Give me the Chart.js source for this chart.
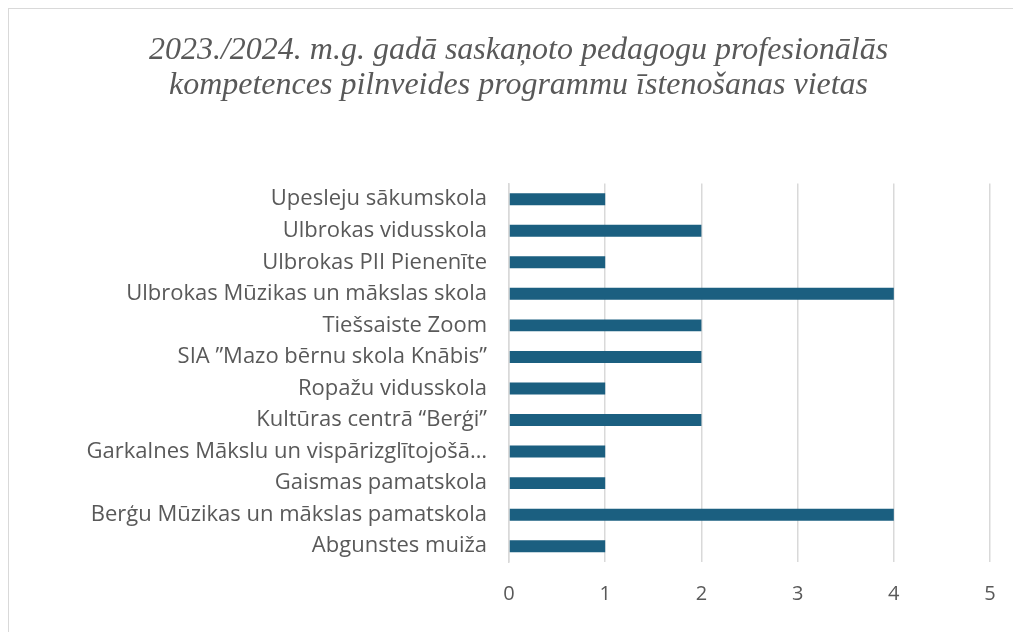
<!DOCTYPE html>
<html>
<head>
<meta charset="utf-8">
<script src="https://cdn.jsdelivr.net/npm/chart.js"></script>
<style>
  html, body { margin: 0; padding: 0; background: #fff; overflow: hidden; }
  #wrap { position: absolute; left: 8px; top: 8px; width: 1020px; height: 640px; border-left: 1.5px solid #d9d9d9; border-top: 1.5px solid #d9d9d9; box-sizing: border-box; }
  canvas { display: block; }
</style>
</head>
<body>
<div id="wrap"><canvas id="c"></canvas></div>
<script>
const titleLines = [
  "2023./2024. m.g. gadā saskaņoto pedagogu profesionālās",
  "kompetences pilnveides programmu īstenošanas vietas"
];
const categories = [
  "Upesleju sākumskola",
  "Ulbrokas vidusskola",
  "Ulbrokas PII Pienenīte",
  "Ulbrokas Mūzikas un mākslas skola",
  "Tiešsaiste Zoom",
  "SIA ”Mazo bērnu skola Knābis”",
  "Ropažu vidusskola",
  "Kultūras centrā “Berģi”",
  "Garkalnes Mākslu un vispārizglītojošā…",
  "Gaismas pamatskola",
  "Berģu Mūzikas un mākslas pamatskola",
  "Abgunstes muiža"
];
const values = [1, 2, 1, 4, 2, 2, 1, 2, 1, 1, 4, 1];
const xTicks = [0, 1, 2, 3, 4, 5];

const textColor = '#595959';
new Chart(document.getElementById('c'), {
  type: 'bar',
  data: {
    labels: categories,
    datasets: [{
      data: values,
      backgroundColor: '#1B5F80',
      borderWidth: 0,
      barPercentage: 0.76,
      categoryPercentage: 0.5
    }]
  },
  options: {
    indexAxis: 'y',
    responsive: true,
    maintainAspectRatio: false,
    animation: false,
    layout: { padding: { top: 0, right: 38, bottom: 36, left: 38 } },
    plugins: {
      legend: { display: false },
      tooltip: { enabled: false },
      title: {
        display: true,
        text: titleLines,
        color: textColor,
        font: { family: 'Liberation Serif', style: 'italic', size: 32, weight: 'normal', lineHeight: 1.1 },
        padding: { top: 24, bottom: 80 }
      }
    },
    scales: {
      x: {
        min: 0, max: 5,
        afterBuildTicks: s => { s.ticks = xTicks.map(v => ({ value: v })); },
        afterFit: s => { s.height = 50; },
        grid: { color: '#d9d9d9', lineWidth: 1.5, drawTicks: false },
        border: { display: false },
        ticks: { color: textColor, padding: 20, font: { family: 'Open Sans', size: 20 } }
      },
      y: {
        afterFit: s => { s.width = 462; },
        grid: { display: false },
        border: { display: true, color: '#d9d9d9', width: 1.5 },
        ticks: { color: textColor, padding: 14, font: { family: 'Open Sans', size: 22 }, autoSkip: false }
      }
    }
  }
});
</script>
</body>
</html>
